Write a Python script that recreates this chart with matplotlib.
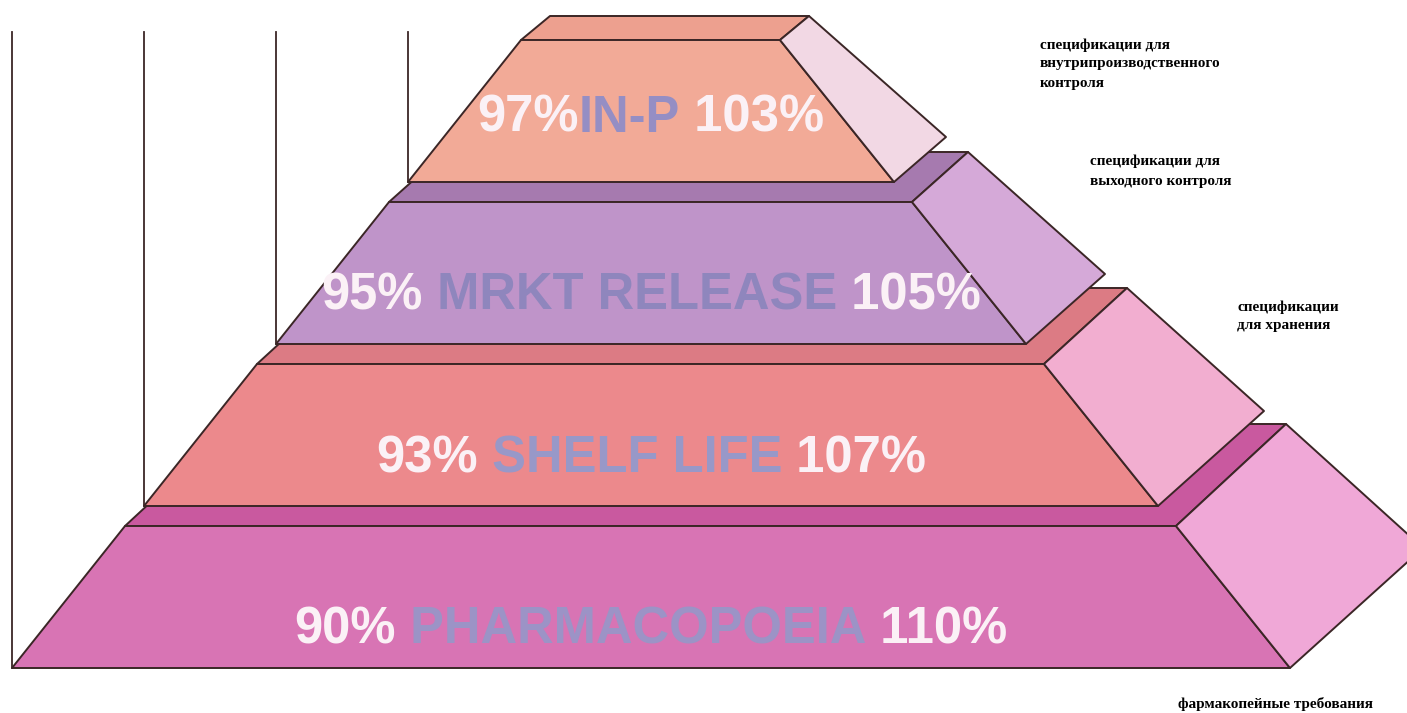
import matplotlib.pyplot as plt
from matplotlib.patches import Polygon

# Уровни пирамиды (снизу вверх)
names = ['PHARMACOPOEIA', 'SHELF LIFE', 'MRKT RELEASE', 'IN-P']
low = [90, 93, 95, 97]
high = [110, 107, 105, 103]
gaps = [' ', ' ', ' ', '']
notes = ['фармакопейные требования',
         'спецификации\nдля хранения',
         'спецификации для\nвыходного контроля',
         'спецификации для\nвнутрипроизводственного\nконтроля']

# Цвета: передняя грань, верх, боковая грань
front_colors = ['#d874b4', '#ec898c', '#bf94c9', '#f2aa97']
top_colors = ['#c9599f', '#dc7b84', '#a67aaf', '#eda08f']
side_colors = ['#f0a8d7', '#f2aed0', '#d5a9d8', '#f2d8e4']
name_colors = ['#9c93c6', '#9898c8', '#8f86bd', '#958ec4']
white = '#fbf1f6'
edge = '#3b2626'

W, H = 1407, 713
fig = plt.figure(figsize=(W / 100, H / 100), dpi=100)
ax = fig.add_axes([0, 0, 1, 1])
ax.set_xlim(0, W)
ax.set_ylim(H, 0)
ax.axis('off')

note_pos = [(1178, 697), (1237, 300), (1090, 155), (1040, 38)]
text_frac = [0.73, 0.67, 0.66, 0.55]
renderer = fig.canvas.get_renderer()

for i in range(len(names)):
    bl = 12 + 132 * i
    br = 1290 - 132 * i
    yb = 668 - 162 * i
    yt = yb - 142
    tl, tr = bl + 113, br - 114
    dtx, dty = 110 - 27 * i, -(102 - 26 * i)
    dbx, dby = 133 - 27 * i, -(120 - 25 * i)

    # вертикальная линия слева
    ax.plot([bl, bl], [32, yb], color=edge, lw=1.3, zorder=1)

    top = [(tl, yt), (tr, yt), (tr + dtx, yt + dty), (tl + dtx, yt + dty)]
    front = [(bl, yb), (tl, yt), (tr, yt), (br, yb)]
    side = [(tr, yt), (tr + dtx, yt + dty), (br + dbx, yb + dby), (br, yb)]
    for pts, c in [(top, top_colors[i]), (front, front_colors[i]), (side, side_colors[i])]:
        ax.add_patch(Polygon(pts, closed=True, facecolor=c, edgecolor=edge,
                             lw=1.4, joinstyle='round', zorder=2 + i))

    # подпись уровня из трёх частей разного цвета
    parts = [(f'{low[i]}%', white), (gaps[i] + names[i], name_colors[i]),
             (f' {high[i]}%', white)]
    ty = yt + text_frac[i] * 142
    texts = [ax.text(0, ty, s, color=c, fontsize=36.5, fontweight='bold',
                     family='Liberation Sans', ha='left', va='center', zorder=10)
             for s, c in parts]
    widths = [t.get_window_extent(renderer).width for t in texts]
    x = (bl + br) / 2 - sum(widths) / 2
    for t, w in zip(texts, widths):
        t.set_x(x)
        x += w

    nx, ny = note_pos[i]
    ax.text(nx, ny, notes[i], family='Liberation Serif', fontweight='bold',
            fontsize=11, ha='left', va='top', linespacing=1.6, color='black')

fig.savefig('out.png', dpi=100, facecolor='white')
